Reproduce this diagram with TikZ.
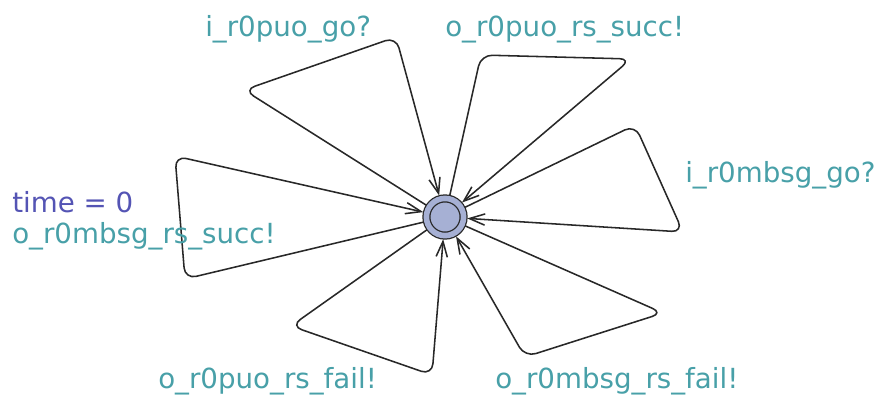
\documentclass[tikz,border=0pt]{standalone}
\usepackage{fontspec}
\setmainfont{DejaVu Sans}
\usetikzlibrary{arrows.meta}
\definecolor{syncc}{RGB}{72,160,168}
\definecolor{assignc}{RGB}{84,84,180}
\definecolor{locfill}{RGB}{166,176,212}
\definecolor{edgec}{RGB}{40,40,40}

\begin{document}
\begin{tikzpicture}[x=0.025cm, y=-0.025cm,
	every node/.style={font=\fontsize{19.7}{23}\selectfont},
	loc/.style={circle, draw=edgec, fill=locfill, double=locfill, double distance=4pt, line width=0.9pt, minimum size=0.93cm, inner sep=0pt, outer sep=2.6pt},
	selfedge/.style={draw=edgec, line width=1.1pt, rounded corners=8pt, -{Straight Barb[length=11pt, width=8pt]}},
	sync/.style={text=syncc, anchor=base west, inner sep=0pt},
	assign/.style={text=assignc, anchor=base west, inner sep=0pt}]
	\useasboundingbox (0,0) rectangle (880,396);
	\node[loc] (init) at (445,217) {};
	\foreach \ax/\ay/\bx/\by in {244/90/396/37, 481/55/631/59, 635/125/683/232, 663/313/525/357, 291/326/432/375, 185/279/175/156}
		\draw[selfedge] (init) -- (\ax,\ay) -- (\bx,\by) -- (init);
	\node[sync] (go_puo) at (205,36) {i\_r0puo\_go?};
	\node[sync] (succ_puo) at (445,36) {o\_r0puo\_rs\_succ!};
	\node[sync] (go_mbsg) at (685,182) {i\_r0mbsg\_go?};
	\node[assign] (reset) at (12,212) {time = 0};
	\node[sync] (succ_mbsg) at (12,243) {o\_r0mbsg\_rs\_succ!};
	\node[sync] (fail_puo) at (158,388) {o\_r0puo\_rs\_fail!};
	\node[sync] (fail_mbsg) at (495,388) {o\_r0mbsg\_rs\_fail!};
\end{tikzpicture}
\end{document}
